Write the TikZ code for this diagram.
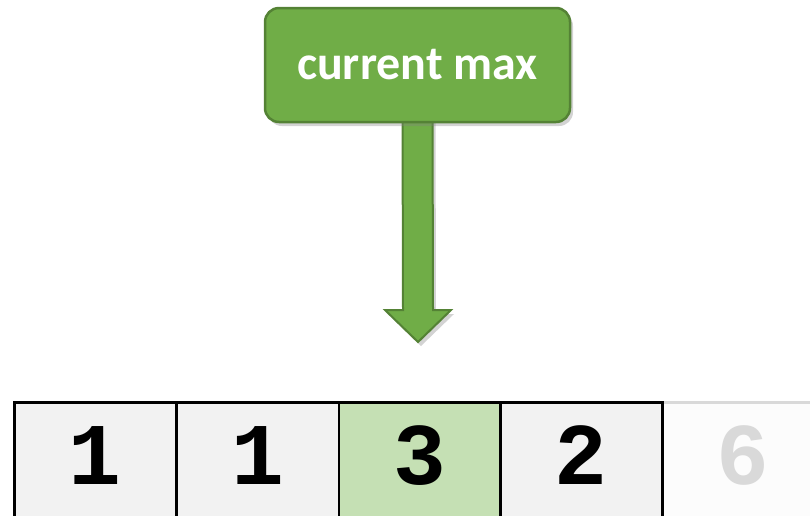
\documentclass[tikz,border=0pt]{standalone}
\usepackage{fontspec}
\newfontfamily\labelfont{Carlito}
\newfontfamily\digitfont{Liberation Mono}
\usetikzlibrary{shadows,calc}
\definecolor{boxgreen}{HTML}{70AD47}
\definecolor{boxedge}{HTML}{548235}
\definecolor{cellgray}{HTML}{F2F2F2}
\definecolor{cellgreen}{HTML}{C5E0B4}
\definecolor{fadegray}{HTML}{D9D9D9}
\definecolor{fadefill}{HTML}{FCFCFC}
\tikzset{
  callout/.style={draw=boxedge, line width=2.5pt, fill=boxgreen, rounded corners=14pt,
    minimum width=305pt, minimum height=114pt, inner sep=0pt,
    font=\labelfont\bfseries\fontsize{48}{52}\selectfont, text=white,
    drop shadow={opacity=0.35, shadow xshift=3pt, shadow yshift=-4pt}},
  arrowbody/.style={draw=boxedge, line width=2pt, fill=boxgreen, line join=miter,
    drop shadow={opacity=0.35, shadow xshift=3pt, shadow yshift=-4pt}},
  cell/.style={draw=black, line width=2.5pt, fill=cellgray, minimum width=162pt,
    minimum height=124pt, inner sep=0pt, anchor=north west,
    font=\digitfont\bfseries\fontsize{88}{90}\selectfont, text height=40pt, text depth=0pt},
  hot/.style={fill=cellgreen},
  faded/.style={draw=fadegray, fill=fadefill, text=fadegray}
}
\begin{document}
\begin{tikzpicture}[x=1pt,y=-1pt]
\path[use as bounding box] (0,0) rectangle (810,515);
\clip (0,0) rectangle (810,515);
% cells
\node[cell, faded] (c5) at (661,401) {6};
\node[cell] (c1) at (13,401) {1};
\node[cell] (c2) at (175.5,401) {1};
\node[cell, hot] (c3) at (337.5,401) {3};
\node[cell] (c4) at (499,401) {2};
% callout box position
\coordinate (boxc) at (417.5,65);
\coordinate (tip) at (418,342);
% arrow body
\path[arrowbody] ($(boxc)+(-15,40)$) -- ($(tip)+(-15,-32)$) -- ($(tip)+(-33,-32)$)
  -- (tip) -- ($(tip)+(33,-32)$) -- ($(tip)+(15,-32)$) -- ($(boxc)+(15,40)$) -- cycle;
\node[callout] (box) at (boxc) {current max};
\end{tikzpicture}
\end{document}
